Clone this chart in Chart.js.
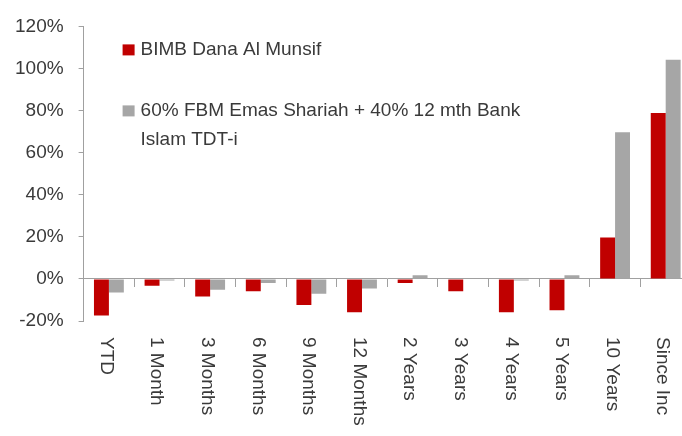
<!DOCTYPE html>
<html>
<head>
<meta charset="utf-8">
<script src="https://cdn.jsdelivr.net/npm/chart.js@4"></script>
<style>
  html, body { margin: 0; padding: 0; background: #fff; overflow: hidden; }
  #wrap { position: relative; width: 700px; height: 436px; }
</style>
</head>
<body>
<div id="wrap"><canvas id="c"></canvas></div>
<script>
const categories = ['YTD', '1 Month', '3 Months', '6 Months', '9 Months', '12 Months',
  '2 Years', '3 Years', '4 Years', '5 Years', '10 Years', 'Since Inc'];
const fundName = 'BIMB Dana Al Munsif';
const benchName = '60% FBM Emas Shariah + 40% 12 mth Bank Islam TDT-i';
const fundValues = [-17.4, -3.2, -8.4, -5.9, -12.4, -15.9, -2.0, -5.9, -15.9, -14.9, 19.7, 78.9];
const benchValues = [-6.4, -0.7, -5.1, -2.0, -7.0, -4.5, 1.8, 0, -0.8, 1.8, 69.7, 104.2];
const yTicks = [-20, 0, 20, 40, 60, 80, 100, 120];

const FONT = '"Liberation Sans", Arial, sans-serif';
const TEXT = '#3a3a3a';
const AXIS = '#a0a0a0';

const customDraw = {
  id: 'customDraw',
  afterDraw(chart) {
    const ctx = chart.ctx;
    const xs = chart.scales.x, ys = chart.scales.y;
    ctx.save();
    ctx.font = '19px ' + FONT;
    ctx.fillStyle = TEXT;
    // category labels, rotated clockwise
    categories.forEach((lab, i) => {
      const x = xs.getPixelForValue(i) - 3;
      const y = ys.bottom + 16;
      ctx.save();
      ctx.translate(x, y);
      ctx.rotate(Math.PI / 2);
      ctx.textAlign = 'left';
      ctx.textBaseline = 'middle';
      ctx.fillText(lab, 0, 0);
      ctx.restore();
    });
    // legend
    const lx = xs.left + 39, textX = xs.left + 57;
    let ly = ys.top + 23;
    const maxW = 410;
    chart.data.datasets.forEach((ds, k) => {
      const words = ds.label.split(' ');
      const lines = [];
      let cur = '';
      words.forEach(w => {
        const t = cur ? cur + ' ' + w : w;
        if (ctx.measureText(t).width > maxW && cur) { lines.push(cur); cur = w; } else cur = t;
      });
      if (cur) lines.push(cur);
      ctx.fillStyle = ds.backgroundColor;
      ctx.fillRect(lx, ly - 5, 12, 11);
      ctx.fillStyle = TEXT;
      ctx.textAlign = 'left';
      ctx.textBaseline = 'middle';
      lines.forEach((ln, j) => ctx.fillText(ln, textX, ly + j * 29));
      ly += 61;
    });
    ctx.restore();
  }
};

new Chart(document.getElementById('c'), {
  type: 'bar',
  data: {
    labels: categories,
    datasets: [
      { label: fundName, data: fundValues, backgroundColor: '#c00000',
        categoryPercentage: 0.59, barPercentage: 1.0 },
      { label: benchName, data: benchValues, backgroundColor: '#a6a6a6',
        categoryPercentage: 0.59, barPercentage: 1.0 }
    ]
  },
  options: {
    responsive: true,
    maintainAspectRatio: false,
    animation: false,
    events: [],
    layout: { padding: { left: 0, right: 9, top: 24, bottom: 115 } },
    plugins: { legend: { display: false }, tooltip: { enabled: false } },
    scales: {
      x: {
        position: { y: 0 },
        offset: true,
        grid: { display: true, offset: true, drawOnChartArea: false, drawTicks: true,
                tickLength: 8, color: AXIS, lineWidth: 1 },
        border: { display: true, color: AXIS, width: 1 },
        ticks: { display: false }
      },
      y: {
        min: -20, max: 120,
        afterBuildTicks: (s) => { s.ticks = yTicks.map(v => ({ value: v })); },
        grid: { display: true, drawOnChartArea: false, drawTicks: true, tickLength: 5,
                color: AXIS, lineWidth: 1 },
        border: { display: true, color: AXIS, width: 1 },
        ticks: { padding: 15, color: TEXT, font: { family: FONT, size: 19 },
                 callback: (v) => v + '%' }
      }
    }
  },
  plugins: [customDraw]
});
</script>
</body>
</html>
